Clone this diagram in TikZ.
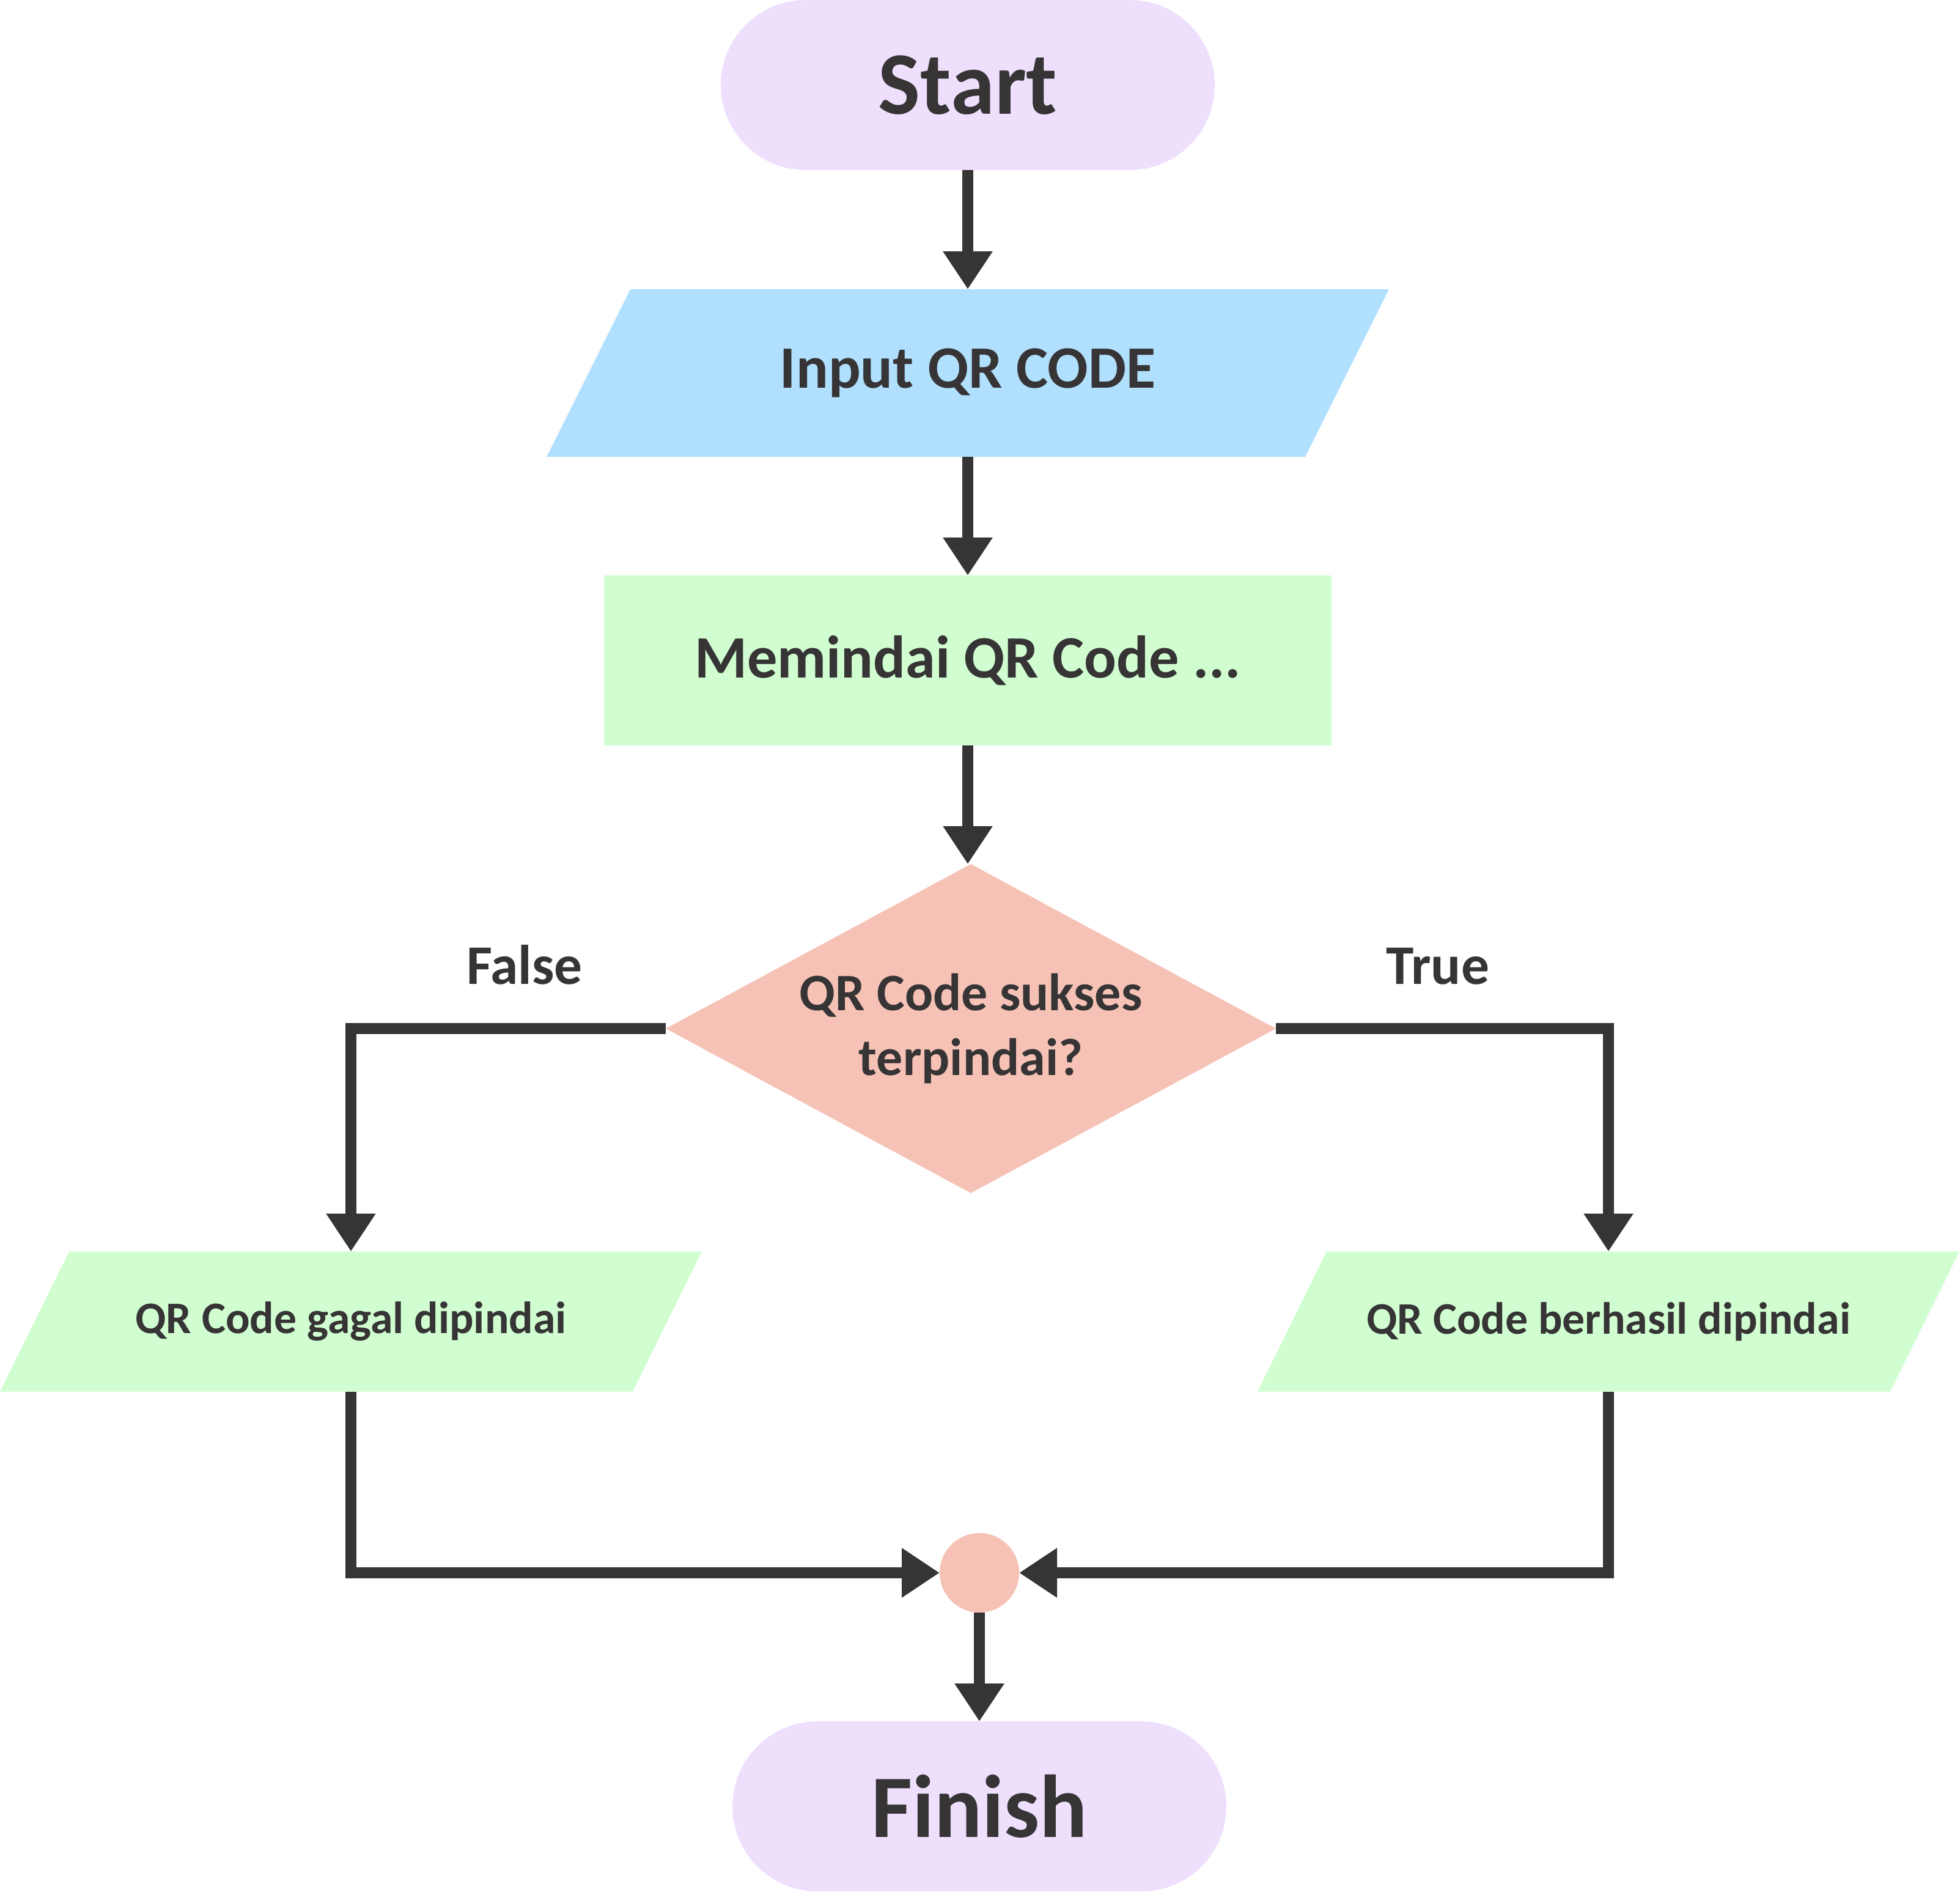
\documentclass[tikz,border=0pt]{standalone}
\usepackage{fontspec}
\setmainfont{Carlito}
\usetikzlibrary{arrows.meta, shapes.geometric, backgrounds}

\definecolor{ink}{HTML}{363435}
\definecolor{termfill}{HTML}{EEDFFD}
\definecolor{inputfill}{HTML}{B0E0FE}
\definecolor{procfill}{HTML}{D0FED0}
\definecolor{decfill}{HTML}{F6C2B6}

% slanted fill behind a node: {node}{half slant}{colour}
\newcommand{\parafill}[3]{%
  \begin{scope}[on background layer]
    \fill[#3] ([xshift=#2]#1.north west) -- ([xshift=#2]#1.north east)
      -- ([xshift=-#2]#1.south east) -- ([xshift=-#2]#1.south west) -- cycle;
  \end{scope}}

\begin{document}
\begin{tikzpicture}[>={Triangle[length=6.2mm, width=7.7mm]}, line width=1.8mm, draw=ink,
    every node/.style={text=ink, inner sep=0pt, outer sep=0pt},
    terminal/.style={rectangle, rounded corners=1.39cm, fill=termfill, minimum width=8.08cm, minimum height=2.78cm, font=\fontsize{41.5}{50}\selectfont\bfseries},
    io/.style={rectangle, minimum width=10.35cm, minimum height=2.29cm, font=\fontsize{21}{25}\selectfont\bfseries},
    process/.style={rectangle, fill=procfill, minimum width=11.9cm, minimum height=2.78cm, font=\fontsize{28}{34}\selectfont\bfseries},
    decision/.style={diamond, aspect=1.855, fill=decfill, minimum width=9.98cm, minimum height=5.38cm, align=center, font=\fontsize{24.5}{30.4}\selectfont\bfseries},
    joint/.style={circle, fill=decfill, minimum size=1.3cm},
    lbl/.style={anchor=base, font=\fontsize{26}{31}\selectfont\bfseries}]
    \useasboundingbox (0,0) rectangle (32.06,-30.93);

    % Define blocks
    \node[terminal] (start) at (15.83, -1.39) {Start};
    \node[io, minimum width=12.41cm, minimum height=2.74cm, font=\fontsize{28}{34}\selectfont\bfseries] (input) at (15.83, -6.10) {Input QR CODE};
    \node[process] (scan) at (15.83, -10.80) {Memindai QR Code ...};
    \node[decision] (check) at (15.88, -16.82) {QR Code sukses\\terpindai?};
    \node[io] (fail) at (5.74, -21.61) {QR Code gagal dipindai};
    \node[io] (success) at (26.31, -21.61) {QR Code berhasil dipindai};
    \node[joint] (merge) at (16.02, -25.72) {};
    \node[terminal] (finish) at (16.02, -29.54) {Finish};

    % Slanted boxes
    \parafill{input}{0.685cm}{inputfill}
    \parafill{fail}{0.565cm}{procfill}
    \parafill{success}{0.565cm}{procfill}

    % Branch labels
    \node[lbl] (lfalse) at (8.58, -16.09) {False};
    \node[lbl] (ltrue) at (23.52, -16.09) {True};

    % Draw edges
    \draw[->] (start) -- (input);
    \draw[->] (input) -- (scan);
    \draw[->] (scan) -- (scan |- check.north);
    \draw[->] (check.west) -| (fail.north); % False
    \draw[->] (check.east) -| (success.north); % True
    \draw[->] (fail.south) |- (merge.west);
    \draw[->] (success.south) |- (merge.east);
    \draw[->] (merge) -- (finish);
\end{tikzpicture}
\end{document}
